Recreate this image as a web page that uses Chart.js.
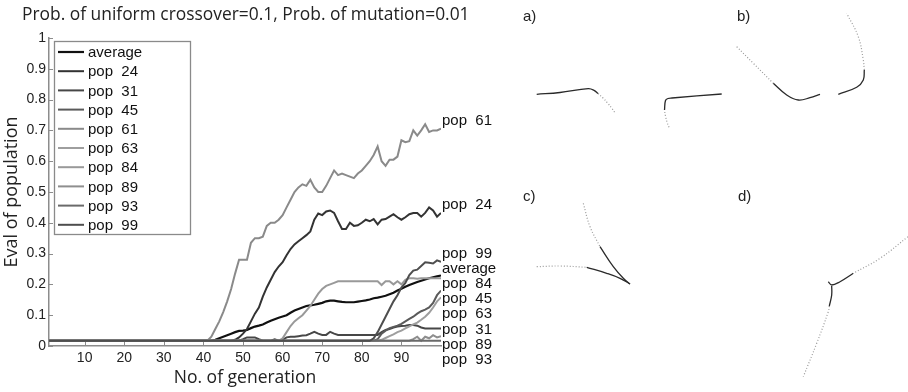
<!DOCTYPE html>
<html><head><meta charset="utf-8">
<script src="https://cdn.jsdelivr.net/npm/chart.js@4/dist/chart.umd.min.js"></script>
<style>
html,body{margin:0;padding:0;background:#fff;width:908px;height:392px;overflow:hidden;}
#main{position:absolute;left:0;top:0;}
#sketch{position:absolute;left:520px;top:0;}
.t{position:absolute;white-space:pre;color:#222;}
#title{left:22px;top:5px;font:17.4px/17px "Open Sans";}
.pl{font:15px/15px "Liberation Sans";}
</style></head>
<body>
<canvas id="main" width="515" height="392"></canvas>
<canvas id="sketch" width="388" height="392"></canvas>
<div class="t" id="title">Prob. of uniform crossover=0.1, Prob. of mutation=0.01</div>
<div class="t pl" style="left:523px;top:8px">a)</div>
<div class="t pl" style="left:737px;top:8px">b)</div>
<div class="t pl" style="left:523px;top:188px">c)</div>
<div class="t pl" style="left:738px;top:188px">d)</div>
<script>
// ---------- data ----------
const generations = Array.from({length:100}, (_, i) => i + 1);
const xTicks = [10,20,30,40,50,60,70,80,90];
const yTicks = [0,0.1,0.2,0.3,0.4,0.5,0.6,0.7,0.8,0.9,1];
const yTickLabels = ['0','0.1','0.2','0.3','0.4','0.5','0.6','0.7','0.8','0.9','1'];
const seriesNames = ['average','pop  24','pop  31','pop  45','pop  61','pop  63','pop  84','pop  89','pop  93','pop  99'];
const seriesColors = ['#111111','#333333','#474747','#5a5a5a','#8a8a8a','#9e9e9e','#999999','#8e8e8e','#6a6a6a','#4e4e4e'];

const average = [
0.017,0.017,0.017,0.017,0.017,0.017,0.017,0.017,0.017,0.017,
0.017,0.017,0.017,0.017,0.017,0.017,0.017,0.017,0.017,0.017,
0.017,0.017,0.017,0.017,0.017,0.017,0.017,0.017,0.017,0.017,
0.017,0.017,0.017,0.017,0.017,0.017,0.017,0.017,0.017,0.017,
0.017,0.017,0.02,0.025,0.03,0.035,0.04,0.045,0.049,0.05,
0.052,0.058,0.063,0.066,0.07,0.076,0.082,0.087,0.092,0.096,
0.10,0.108,0.115,0.12,0.125,0.13,0.132,0.134,0.137,0.14,
0.145,0.147,0.147,0.145,0.143,0.142,0.142,0.142,0.144,0.146,
0.148,0.151,0.155,0.157,0.16,0.163,0.168,0.173,0.18,0.186,
0.192,0.198,0.203,0.208,0.212,0.216,0.22,0.223,0.226,0.229];
const pop24 = [
0.017,0.017,0.017,0.017,0.017,0.017,0.017,0.017,0.017,0.017,
0.017,0.017,0.017,0.017,0.017,0.017,0.017,0.017,0.017,0.017,
0.017,0.017,0.017,0.017,0.017,0.017,0.017,0.017,0.017,0.017,
0.017,0.017,0.017,0.017,0.017,0.017,0.017,0.017,0.017,0.017,
0.017,0.017,0.017,0.017,0.017,0.017,0.017,0.02,0.028,0.04,
0.055,0.08,0.105,0.125,0.16,0.19,0.215,0.24,0.258,0.272,
0.295,0.315,0.33,0.34,0.35,0.36,0.372,0.41,0.43,0.425,
0.437,0.44,0.432,0.405,0.38,0.38,0.40,0.39,0.392,0.40,
0.41,0.405,0.412,0.395,0.41,0.412,0.42,0.428,0.418,0.41,
0.418,0.428,0.432,0.432,0.42,0.432,0.45,0.44,0.42,0.432];
const pop31 = [
0.017,0.017,0.017,0.017,0.017,0.017,0.017,0.017,0.017,0.017,
0.017,0.017,0.017,0.017,0.017,0.017,0.017,0.017,0.017,0.017,
0.017,0.017,0.017,0.017,0.017,0.017,0.017,0.017,0.017,0.017,
0.017,0.017,0.017,0.017,0.017,0.017,0.017,0.017,0.017,0.017,
0.017,0.017,0.017,0.017,0.017,0.017,0.017,0.017,0.017,0.022,
0.028,0.028,0.028,0.022,0.017,0.017,0.017,0.022,0.017,0.02,
0.028,0.03,0.03,0.032,0.034,0.035,0.04,0.046,0.04,0.036,
0.036,0.046,0.04,0.036,0.036,0.036,0.036,0.036,0.036,0.036,
0.036,0.036,0.036,0.036,0.045,0.052,0.055,0.06,0.063,0.065,
0.066,0.068,0.068,0.066,0.06,0.057,0.057,0.057,0.057,0.057];
const pop45 = [
0.017,0.017,0.017,0.017,0.017,0.017,0.017,0.017,0.017,0.017,
0.017,0.017,0.017,0.017,0.017,0.017,0.017,0.017,0.017,0.017,
0.017,0.017,0.017,0.017,0.017,0.017,0.017,0.017,0.017,0.017,
0.017,0.017,0.017,0.017,0.017,0.017,0.017,0.017,0.017,0.017,
0.017,0.017,0.017,0.017,0.017,0.017,0.017,0.017,0.017,0.017,
0.017,0.017,0.017,0.017,0.017,0.017,0.017,0.017,0.017,0.017,
0.017,0.017,0.017,0.017,0.017,0.017,0.017,0.017,0.017,0.017,
0.017,0.017,0.017,0.017,0.017,0.017,0.017,0.017,0.017,0.017,
0.017,0.017,0.017,0.022,0.04,0.05,0.058,0.062,0.066,0.072,
0.08,0.088,0.095,0.105,0.113,0.118,0.125,0.14,0.165,0.18];
const pop61 = [
0.017,0.017,0.017,0.017,0.017,0.017,0.017,0.017,0.017,0.017,
0.017,0.017,0.017,0.017,0.017,0.017,0.017,0.017,0.017,0.017,
0.017,0.017,0.017,0.017,0.017,0.017,0.017,0.017,0.017,0.017,
0.017,0.017,0.017,0.017,0.017,0.017,0.017,0.017,0.017,0.017,
0.017,0.03,0.055,0.08,0.11,0.145,0.185,0.235,0.28,0.28,
0.28,0.335,0.35,0.35,0.355,0.39,0.40,0.40,0.41,0.425,
0.45,0.475,0.50,0.515,0.525,0.52,0.54,0.515,0.50,0.50,
0.52,0.545,0.57,0.555,0.56,0.555,0.55,0.545,0.56,0.57,
0.585,0.60,0.62,0.648,0.60,0.585,0.605,0.605,0.615,0.668,
0.662,0.665,0.70,0.683,0.70,0.72,0.695,0.70,0.70,0.706];
const pop63 = [
0.017,0.017,0.017,0.017,0.017,0.017,0.017,0.017,0.017,0.017,
0.017,0.017,0.017,0.017,0.017,0.017,0.017,0.017,0.017,0.017,
0.017,0.017,0.017,0.017,0.017,0.017,0.017,0.017,0.017,0.017,
0.017,0.017,0.017,0.017,0.017,0.017,0.017,0.017,0.017,0.017,
0.017,0.017,0.017,0.017,0.017,0.017,0.017,0.017,0.017,0.017,
0.017,0.017,0.017,0.017,0.017,0.017,0.017,0.017,0.017,0.017,
0.017,0.017,0.017,0.017,0.017,0.017,0.017,0.017,0.017,0.017,
0.017,0.017,0.017,0.017,0.017,0.017,0.017,0.017,0.017,0.017,
0.017,0.017,0.017,0.017,0.02,0.026,0.032,0.038,0.045,0.05,
0.057,0.064,0.07,0.076,0.085,0.095,0.108,0.125,0.145,0.158];
const pop84 = [
0.017,0.017,0.017,0.017,0.017,0.017,0.017,0.017,0.017,0.017,
0.017,0.017,0.017,0.017,0.017,0.017,0.017,0.017,0.017,0.017,
0.017,0.017,0.017,0.017,0.017,0.017,0.017,0.017,0.017,0.017,
0.017,0.017,0.017,0.017,0.017,0.017,0.017,0.017,0.017,0.017,
0.017,0.017,0.017,0.017,0.017,0.017,0.017,0.017,0.017,0.017,
0.017,0.017,0.017,0.017,0.017,0.017,0.017,0.017,0.017,0.025,
0.045,0.065,0.08,0.09,0.10,0.115,0.13,0.15,0.17,0.185,
0.195,0.20,0.205,0.21,0.21,0.21,0.21,0.21,0.21,0.21,
0.21,0.21,0.21,0.21,0.198,0.21,0.21,0.20,0.21,0.20,
0.215,0.22,0.22,0.218,0.22,0.22,0.22,0.22,0.22,0.22];
const pop89 = [
0.017,0.017,0.017,0.017,0.017,0.017,0.017,0.017,0.017,0.017,
0.017,0.017,0.017,0.017,0.017,0.017,0.017,0.017,0.017,0.017,
0.017,0.017,0.017,0.017,0.017,0.017,0.017,0.017,0.017,0.017,
0.017,0.017,0.017,0.017,0.017,0.017,0.017,0.017,0.017,0.017,
0.017,0.017,0.017,0.017,0.017,0.017,0.017,0.017,0.017,0.017,
0.017,0.017,0.017,0.017,0.017,0.017,0.017,0.017,0.017,0.017,
0.017,0.017,0.017,0.017,0.017,0.017,0.017,0.017,0.017,0.017,
0.017,0.017,0.017,0.017,0.017,0.017,0.017,0.017,0.017,0.017,
0.017,0.017,0.017,0.017,0.017,0.017,0.017,0.017,0.017,0.017,
0.017,0.017,0.022,0.03,0.017,0.03,0.025,0.035,0.028,0.032];
const pop93 = [
0.017,0.017,0.017,0.017,0.017,0.017,0.017,0.017,0.017,0.017,
0.017,0.017,0.017,0.017,0.017,0.017,0.017,0.017,0.017,0.017,
0.017,0.017,0.017,0.017,0.017,0.017,0.017,0.017,0.017,0.017,
0.017,0.017,0.017,0.017,0.017,0.017,0.017,0.017,0.017,0.017,
0.017,0.017,0.017,0.017,0.017,0.017,0.017,0.017,0.017,0.017,
0.017,0.017,0.017,0.017,0.017,0.017,0.017,0.017,0.017,0.017,
0.017,0.017,0.017,0.017,0.017,0.017,0.017,0.017,0.017,0.017,
0.017,0.017,0.017,0.017,0.017,0.017,0.017,0.017,0.017,0.017,
0.017,0.017,0.017,0.017,0.017,0.017,0.017,0.017,0.017,0.017,
0.017,0.017,0.017,0.017,0.017,0.017,0.017,0.017,0.017,0.017];
const pop99 = [
0.017,0.017,0.017,0.017,0.017,0.017,0.017,0.017,0.017,0.017,
0.017,0.017,0.017,0.017,0.017,0.017,0.017,0.017,0.017,0.017,
0.017,0.017,0.017,0.017,0.017,0.017,0.017,0.017,0.017,0.017,
0.017,0.017,0.017,0.017,0.017,0.017,0.017,0.017,0.017,0.017,
0.017,0.017,0.017,0.017,0.017,0.017,0.017,0.017,0.017,0.017,
0.017,0.017,0.017,0.017,0.017,0.017,0.017,0.017,0.017,0.017,
0.017,0.017,0.017,0.017,0.017,0.017,0.017,0.017,0.017,0.017,
0.017,0.017,0.017,0.017,0.017,0.017,0.017,0.017,0.017,0.017,
0.017,0.017,0.025,0.045,0.07,0.095,0.12,0.145,0.165,0.19,
0.205,0.23,0.245,0.248,0.26,0.272,0.27,0.268,0.278,0.273];
const seriesValues = [average,pop24,pop31,pop45,pop61,pop63,pop84,pop89,pop93,pop99];

// sketch curves (panel frame units)
const a1SolidX = [16.7,40,68.3,74,78];            const a1SolidY = [297.7,299.5,303.3,301.7,298.5];
const a1DotX = [78,83,88,92,95];                  const a1DotY = [298.5,294,288.5,283.5,279.3];
const a2DotX = [149,147,145.5,144.5];             const a2DotY = [264.7,270,276,282];
const a2SolidX = [144.5,145.5,148,152,201.7];     const a2SolidY = [282,291.5,293.5,294,298];
const b1DotX = [216.7,233.3,253.3];               const b1DotY = [345.3,328.7,308.7];
const b1SolidX = [253.3,266.7,278.3,290,300];     const b1SolidY = [308.7,297,292,294.3,297.7];
const b2SolidX = [318.3,336.7,343.3,344.3];       const b2SolidY = [297.7,304.7,312,322];
const b2DotX = [344.3,343.3,338.3,326.7];         const b2DotY = [322,332,355.3,378.7];
const c1DotX = [16.7,40,66.7];                    const c1DotY = [125.3,126,124.7];
const c1SolidX = [66.7,86.7,100,110];             const c1SolidY = [124.7,118.7,113.7,108];
const c2DotX = [63.3,70,80];                      const c2DotY = [188.7,165.3,145.3];
const c2SolidX = [80,93.3,103.3,110];             const c2SolidY = [145.3,125.3,113.7,108];
const d1DotX = [388,360,333.3];                   const d1DotY = [155.3,133.7,118.7];
const d1SolidX = [333.3,320,311.7,308.3];         const d1SolidY = [118.7,110.3,107,110.3];
const d2SolidX = [311.7,311.7,309.3];             const d2SolidY = [106,97,86];
const d2DotX = [309.3,308.3,296.7,283.3];         const d2DotY = [86,80.3,48.7,15.3];

// ---------- main chart ----------
const datasets = seriesNames.map((name, i) => ({
  label: name,
  data: seriesValues[i].map((v, k) => ({x: generations[k], y: v})),
  borderColor: seriesColors[i],
  borderWidth: i === 0 ? 2.2 : 2,
  pointRadius: 0,
  tension: 0,
  fill: false,
  order: -i
}));

const axisColor = '#8c8c8c';

const innerTicks = {
  id: 'innerTicks',
  beforeDatasetsDraw(chart) {
    const {ctx, chartArea, scales} = chart;
    ctx.save();
    ctx.strokeStyle = axisColor;
    ctx.lineWidth = 1;
    ctx.beginPath();
    yTicks.forEach(v => {
      const y = Math.round(scales.y.getPixelForValue(v)) + 0.5;
      ctx.moveTo(chartArea.left, y); ctx.lineTo(chartArea.left + 4, y);
    });
    xTicks.forEach(v => {
      const x = Math.round(scales.x.getPixelForValue(v)) + 0.5;
      ctx.moveTo(x, chartArea.bottom); ctx.lineTo(x, chartArea.bottom - 4);
    });
    ctx.stroke();
    ctx.restore();
  }
};

const boxLegend = {
  id: 'boxLegend',
  afterDraw(chart) {
    const {ctx} = chart;
    const ds = chart.data.datasets;
    ctx.save();
    ctx.fillStyle = '#fff';
    ctx.fillRect(54.5, 41.5, 136, 193);
    ctx.strokeStyle = '#8a8a8a';
    ctx.lineWidth = 1.3;
    ctx.strokeRect(54.5, 41.5, 136, 193);
    ctx.font = '15px "Liberation Sans"';
    ctx.textBaseline = 'middle';
    ds.forEach((d, i) => {
      const y = 52 + i * 19.2;
      ctx.strokeStyle = d.borderColor;
      ctx.lineWidth = d.borderWidth;
      ctx.beginPath(); ctx.moveTo(58, y); ctx.lineTo(84, y); ctx.stroke();
      ctx.fillStyle = '#111';
      ctx.fillText(d.label, 88, y + 1);
    });
    ctx.restore();
  }
};

const endLabels = {
  id: 'endLabels',
  afterDatasetsDraw(chart) {
    const {ctx, chartArea, scales} = chart;
    const items = chart.data.datasets.map(d => ({
      text: d.label,
      y: scales.y.getPixelForValue(d.data[d.data.length - 1].y) - 9
    })).sort((a, b) => a.y - b.y);
    for (let i = 1; i < items.length; i++) {
      if (items[i].y < items[i - 1].y + 15.1) items[i].y = items[i - 1].y + 15.1;
    }
    ctx.save();
    ctx.font = '15px "Liberation Sans"';
    ctx.textBaseline = 'middle';
    ctx.fillStyle = '#111';
    items.forEach(it => ctx.fillText(it.text, chartArea.right + 1, it.y + 1));
    ctx.restore();
  }
};

new Chart(document.getElementById('main'), {
  type: 'line',
  data: {datasets},
  options: {
    responsive: false,
    animation: false,
    devicePixelRatio: 1,
    layout: {padding: {left: 0, right: 74, top: 38, bottom: 0}},
    plugins: {legend: {display: false}, tooltip: {enabled: false}, title: {display: false}},
    scales: {
      x: {
        type: 'linear', min: 1, max: 100,
        afterBuildTicks: s => { s.ticks = xTicks.map(v => ({value: v})); },
        afterFit: s => { s.height = 46; },
        grid: {display: false, drawTicks: false},
        border: {display: true, color: axisColor, width: 1.5},
        ticks: {padding: 4, color: '#222', autoSkip: false, maxRotation: 0,
                font: {family: 'Liberation Sans', size: 14}},
        title: {display: true, text: 'No. of generation', color: '#222',
                font: {family: 'Open Sans', size: 17.5}, padding: {top: 0, bottom: 3}}
      },
      y: {
        type: 'linear', min: 0, max: 1,
        afterBuildTicks: s => { s.ticks = yTicks.map(v => ({value: v})); },
        afterFit: s => { s.width = 49; },
        grid: {display: false, drawTicks: false},
        border: {display: true, color: axisColor, width: 1.5},
        ticks: {padding: 3, color: '#222', font: {family: 'Liberation Sans', size: 14},
                callback: (v, i) => yTickLabels[i]},
        title: {display: true, text: 'Eval of population', color: '#222',
                font: {family: 'Open Sans', size: 18}, padding: {top: 1, bottom: 0}}
      }
    }
  },
  plugins: [innerTicks, endLabels, boxLegend]
});

// ---------- sketch panels ----------
function seg(xs, ys, dotted) {
  return {
    data: xs.map((x, i) => ({x, y: ys[i]})),
    showLine: true, pointRadius: 0, tension: 0.4,
    borderColor: dotted ? '#9a9a9a' : '#2a2a2a',
    borderWidth: dotted ? 1.2 : 1.3,
    borderDash: dotted ? [1, 2] : []
  };
}
new Chart(document.getElementById('sketch'), {
  type: 'scatter',
  data: {datasets: [
    seg(a1SolidX, a1SolidY, false), seg(a1DotX, a1DotY, true),
    seg(a2DotX, a2DotY, true), seg(a2SolidX, a2SolidY, false),
    seg(b1DotX, b1DotY, true), seg(b1SolidX, b1SolidY, false),
    seg(b2SolidX, b2SolidY, false), seg(b2DotX, b2DotY, true),
    seg(c1DotX, c1DotY, true), seg(c1SolidX, c1SolidY, false),
    seg(c2DotX, c2DotY, true), seg(c2SolidX, c2SolidY, false),
    seg(d1DotX, d1DotY, true), seg(d1SolidX, d1SolidY, false),
    seg(d2SolidX, d2SolidY, false), seg(d2DotX, d2DotY, true)
  ]},
  options: {
    responsive: false, animation: false, devicePixelRatio: 1,
    layout: {padding: 0},
    plugins: {legend: {display: false}, tooltip: {enabled: false}},
    scales: {
      x: {type: 'linear', display: false, min: 0, max: 388},
      y: {type: 'linear', display: false, min: 0, max: 392}
    }
  }
});
</script>
</body></html>
